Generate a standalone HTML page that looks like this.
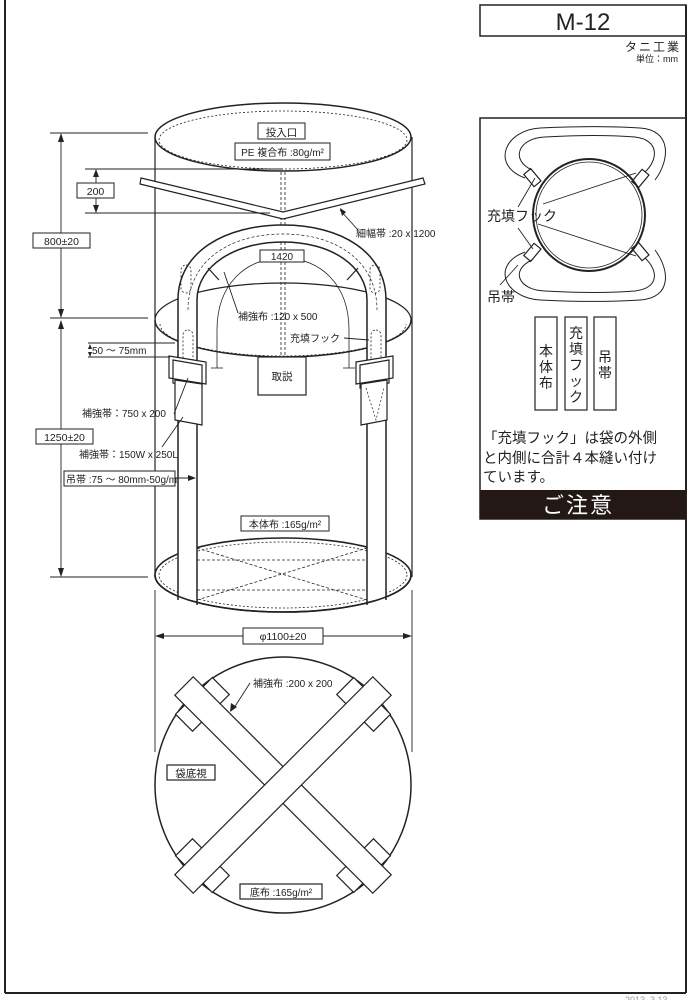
<!DOCTYPE html>
<html><head><meta charset="utf-8"><style>
html,body{margin:0;padding:0;background:#fff}
svg{display:block}
text{font-family:"Liberation Sans","Noto Sans CJK JP",sans-serif;fill:#222}
</style></head><body>
<svg width="689" height="1000" viewBox="0 0 689 1000" xmlns="http://www.w3.org/2000/svg">
<g stroke="#222" fill="none" stroke-width="1.2">
<!-- frame -->
<line x1="5" y1="0" x2="5" y2="993" stroke-width="2"/>
<line x1="5" y1="993" x2="686" y2="993" stroke-width="2"/>
<line x1="686" y1="5" x2="686" y2="993" stroke-width="2"/>
<rect x="480" y="5" width="206" height="31" stroke-width="1.5"/>
<rect x="480" y="118" width="206" height="401" stroke-width="1.5"/>
<rect x="480" y="490" width="206" height="29" fill="#231815" stroke="none"/>

<!-- cylinder -->
<line x1="155" y1="137" x2="155" y2="577"/>
<line x1="412" y1="137" x2="412" y2="577"/>
<ellipse cx="283" cy="137" rx="128" ry="34" stroke-width="1.5"/>
<ellipse cx="283" cy="140" rx="124" ry="29" stroke-dasharray="2,2" stroke-width="0.8"/>
<!-- center dashed -->
<line x1="281" y1="172" x2="281" y2="357" stroke-dasharray="3,2" stroke-width="0.8"/>
<line x1="285" y1="172" x2="285" y2="357" stroke-dasharray="3,2" stroke-width="0.8"/>
<!-- middle ellipse -->
<path d="M155,320 A128,37 0 0 1 411,320" />
<path d="M155,320 A128,37 0 0 0 411,320" stroke-width="1.5"/>
<path d="M160,324 A123,32 0 0 0 406,324" stroke-dasharray="2,2" stroke-width="0.8"/>
<!-- bottom ellipse -->
<ellipse cx="283" cy="575" rx="128" ry="37" stroke-width="1.6"/>
<ellipse cx="283" cy="575" rx="124" ry="33" stroke-dasharray="2,2" stroke-width="0.8"/>
<g stroke-dasharray="3,2" stroke-width="0.8">
<line x1="197" y1="548" x2="367" y2="600"/>
<line x1="197" y1="600" x2="367" y2="548"/>
<line x1="197" y1="560" x2="367" y2="560"/>
<line x1="197" y1="590" x2="367" y2="590"/>
</g>
<!-- straps band -->
<path d="M178,600 L178,300 C178,252 225,225 283,225 C341,225 386,252 386,300 L386,600 L367,600 L367,300 C367,266 331,242 283,242 C235,242 197,266 197,300 L197,600 Z" fill="#fff" stroke="none"/>
<path d="M178,600 L178,300 C178,252 225,225 283,225 C341,225 386,252 386,300 L386,600" stroke-width="1.5"/>
<path d="M197,605 L197,300 C197,266 235,242 283,242 C331,242 367,266 367,300 L367,605" stroke-width="1.5"/>
<path d="M188,310 C188,262 228,234 283,234 C338,234 377,262 377,310" stroke-dasharray="3,2" stroke-width="0.7"/>
<line x1="208" y1="268" x2="219" y2="280"/>
<line x1="358" y1="268" x2="347" y2="280"/>
<!-- bottom ellipse front redraw -->
<path d="M155,575 A128,37 0 0 0 411,575" stroke-width="1.6"/>
<!-- 1420 arc -->
<path d="M217,368 L217,330 C217,285 245,258 283,258 C321,258 349,285 349,330 L349,368" stroke-width="0.8"/>
<line x1="211" y1="368" x2="223" y2="368" stroke-width="0.8"/>
<line x1="343" y1="368" x2="355" y2="368" stroke-width="0.8"/>
<!-- ears -->
<rect x="181" y="265" width="10" height="28" rx="5" stroke-dasharray="2,2" stroke-width="0.8"/>
<rect x="370" y="265" width="10" height="28" rx="5" stroke-dasharray="2,2" stroke-width="0.8"/>
<rect x="183" y="330" width="10" height="32" rx="5" stroke-dasharray="2,2" stroke-width="0.8"/>
<rect x="371" y="330" width="10" height="32" rx="5" stroke-dasharray="2,2" stroke-width="0.8"/>
<!-- strap patches -->
<polygon points="169,356 206,362 206,384 169,378" fill="#fff"/>
<polygon points="173,360 202,365 202,388 173,383" />
<polygon points="175,380 202,384 202,425 175,420" fill="#fff"/>
<polygon points="356,362 393,356 393,378 356,384" fill="#fff"/>
<polygon points="360,365 389,360 389,383 360,388"/>
<polygon points="361,384 387,380 387,420 361,425" fill="#fff"/>
<path d="M366,388 L376,420 L384,388" stroke-dasharray="2,2" stroke-width="0.7"/>
<!-- V thin strap -->
<path d="M141,178 L283,212 L423,178 L425,184 L283,219 L140,184 Z" fill="#fff"/>
<!-- 取説 -->
<rect x="258" y="357" width="48" height="38" fill="#fff"/>
<!-- dimension lines -->
<g stroke-width="0.9">
<line x1="50" y1="133" x2="148" y2="133"/>
<line x1="50" y1="318" x2="148" y2="318"/>
<line x1="85" y1="169" x2="283" y2="169"/>
<line x1="85" y1="213" x2="270" y2="213"/>
<line x1="50" y1="577" x2="148" y2="577"/>
<line x1="61" y1="137" x2="61" y2="314"/>
<line x1="61" y1="324" x2="61" y2="573"/>
<line x1="96" y1="173" x2="96" y2="209"/>
<line x1="155" y1="590" x2="155" y2="752"/>
<line x1="412" y1="590" x2="412" y2="752"/>
<line x1="159" y1="636" x2="408" y2="636"/>
<line x1="88" y1="343" x2="175" y2="343"/>
<line x1="88" y1="357" x2="170" y2="357"/>
<line x1="340" y1="210" x2="358" y2="230"/>
<line x1="224" y1="272" x2="238" y2="313"/>
<line x1="344" y1="338" x2="369" y2="340"/>
<line x1="174" y1="414" x2="188" y2="378"/>
<line x1="162" y1="447" x2="183" y2="417"/>
<line x1="175" y1="478" x2="193" y2="478"/>
<line x1="250" y1="683" x2="234" y2="708"/>
</g>
<g fill="#222" stroke="none">
<polygon points="61,133 58,142 64,142"/><polygon points="61,318 58,309 64,309"/>
<polygon points="61,320 58,329 64,329"/><polygon points="61,577 58,568 64,568"/>
<polygon points="96,169 93,177 99,177"/><polygon points="96,213 93,205 99,205"/>
<polygon points="155,636 164,633 164,639"/><polygon points="412,636 403,633 403,639"/>
<polygon points="196,478 188,475 188,481"/>
<polygon points="90,344 88,349 92,349"/><polygon points="90,357 88,352 92,352"/>
<polygon points="230,712 231,703 237,707"/>
<polygon points="340,208 342,216 346,212"/>
</g>

<!-- label boxes -->
<g fill="#fff" stroke-width="1">
<rect x="258" y="123" width="47" height="16"/>
<rect x="235" y="143" width="95" height="17"/>
<rect x="77" y="183" width="37" height="15"/>
<rect x="33" y="233" width="57" height="15"/>
<rect x="260" y="250" width="44" height="12"/>
<rect x="36" y="429" width="57" height="15"/>
<rect x="64" y="471" width="111" height="15"/>
<rect x="241" y="516" width="88" height="15"/>
<rect x="243" y="628" width="80" height="16"/>
</g>

<!-- bottom view -->
<circle cx="283" cy="785" r="128" stroke-width="1.5"/>
<g transform="translate(283,785) rotate(45)">
<rect x="-126" y="-26" width="24" height="52" fill="#fff"/>
<rect x="102" y="-26" width="24" height="52" fill="#fff"/>
<rect x="-140" y="-13" width="280" height="26" fill="#fff"/>
</g>
<g transform="translate(283,785) rotate(-45)">
<rect x="-126" y="-26" width="24" height="52" fill="#fff"/>
<rect x="102" y="-26" width="24" height="52" fill="#fff"/>
<rect x="-140" y="-13" width="280" height="26" fill="#fff"/>
</g>
<rect x="167" y="765" width="48" height="15" fill="#fff"/>
<rect x="240" y="884" width="82" height="15" fill="#fff"/>

<!-- right panel diagram -->
<path d="M525,178 C490,165 505,130 540,128 C580,126 610,126 640,128 C672,130 670,160 655,180" stroke-width="1"/>
<path d="M532,170 C510,160 518,138 545,137 C580,135 610,135 635,137 C660,140 658,160 645,172" stroke-width="1"/>
<path d="M525,252 C490,265 505,298 540,300 C580,302 610,302 640,300 C672,298 670,270 655,250" stroke-width="1"/>
<path d="M532,260 C510,270 518,290 545,291 C580,293 610,293 635,291 C660,288 658,270 645,258" stroke-width="1"/>
<circle cx="589" cy="215" r="56" stroke-width="2"/>
<circle cx="589" cy="215" r="53" stroke-width="0.8"/>
<rect x="528" y="170" width="9" height="16" transform="rotate(-40 532 178)"/>
<rect x="636" y="170" width="9" height="16" transform="rotate(40 640 178)"/>
<rect x="528" y="244" width="9" height="16" transform="rotate(40 532 252)"/>
<rect x="636" y="244" width="9" height="16" transform="rotate(-40 640 252)"/>
<line x1="543" y1="204" x2="636" y2="173" stroke-width="0.9"/>
<line x1="538" y1="224" x2="636" y2="256" stroke-width="0.9"/>
<line x1="518" y1="207" x2="535" y2="178" stroke-width="0.9"/>
<line x1="518" y1="228" x2="533" y2="249" stroke-width="0.9"/>
<line x1="500" y1="285" x2="518" y2="265" stroke-width="0.9"/>
<rect x="535" y="317" width="22" height="93" stroke-width="1.2"/>
<rect x="565" y="317" width="22" height="93" stroke-width="1.2"/>
<rect x="594" y="317" width="22" height="93" stroke-width="1.2"/>
</g>

<!-- texts -->
<text x="583" y="30" font-size="24" text-anchor="middle">M-12</text>
<text x="681" y="51" font-size="12" text-anchor="end" letter-spacing="2">タニ工業</text>
<text x="678" y="62" font-size="9" text-anchor="end">単位：mm</text>

<g font-size="10.5">
<text x="281.5" y="136" text-anchor="middle">投入口</text>
<text x="282.5" y="156" text-anchor="middle" font-size="10">PE 複合布 :80g/m²</text>
<text x="95.5" y="195" text-anchor="middle">200</text>
<text x="61.5" y="245" text-anchor="middle">800±20</text>
<text x="356" y="237" font-size="10">細幅帯 :20 x 1200</text>
<text x="282" y="260" text-anchor="middle" font-size="10">1420</text>
<text x="238" y="320" font-size="10">補強布 :120 x 500</text>
<text x="290" y="342" font-size="10">充填フック</text>
<text x="282" y="380" text-anchor="middle">取説</text>
<text x="92" y="354" font-size="10">50 ～ 75mm</text>
<text x="82" y="417" font-size="10">補強帯：750 x 200</text>
<text x="64.5" y="441" text-anchor="middle">1250±20</text>
<text x="79" y="458" font-size="10">補強帯：150W x 250L</text>
<text x="66" y="483" font-size="10">吊帯 :75 ～ 80mm-50g/m</text>
<text x="285" y="528" text-anchor="middle" font-size="10">本体布 :165g/m²</text>
<text x="283" y="640" text-anchor="middle">φ1100±20</text>
<text x="253" y="687" font-size="10">補強布 :200 x 200</text>
<text x="191" y="777" text-anchor="middle">袋底視</text>
<text x="281" y="896" text-anchor="middle" font-size="10">底布 :165g/m²</text>
</g>

<text x="487" y="221" font-size="14">充填フック</text>
<text x="487" y="302" font-size="14">吊帯</text>
<g font-size="14" text-anchor="middle">
<text x="546" y="356">本</text><text x="546" y="372">体</text><text x="546" y="388">布</text>
<text x="576" y="338">充</text><text x="576" y="354">填</text><text x="576" y="370">フ</text><text x="576" y="386">ッ</text><text x="576" y="402">ク</text>
<text x="605" y="362">吊</text><text x="605" y="378">帯</text>
</g>
<g font-size="14.5">
<text x="483" y="443">「充填フック」は袋の外側</text>
<text x="483" y="463">と内側に合計４本縫い付け</text>
<text x="483" y="482">ています。</text>
</g>
<text x="578" y="513" font-size="22" text-anchor="middle" style="fill:#fff" letter-spacing="2">ご注意</text>
<text x="625" y="1003" font-size="9" style="fill:#999">2013.  3.13</text>
</svg>
</body></html>
